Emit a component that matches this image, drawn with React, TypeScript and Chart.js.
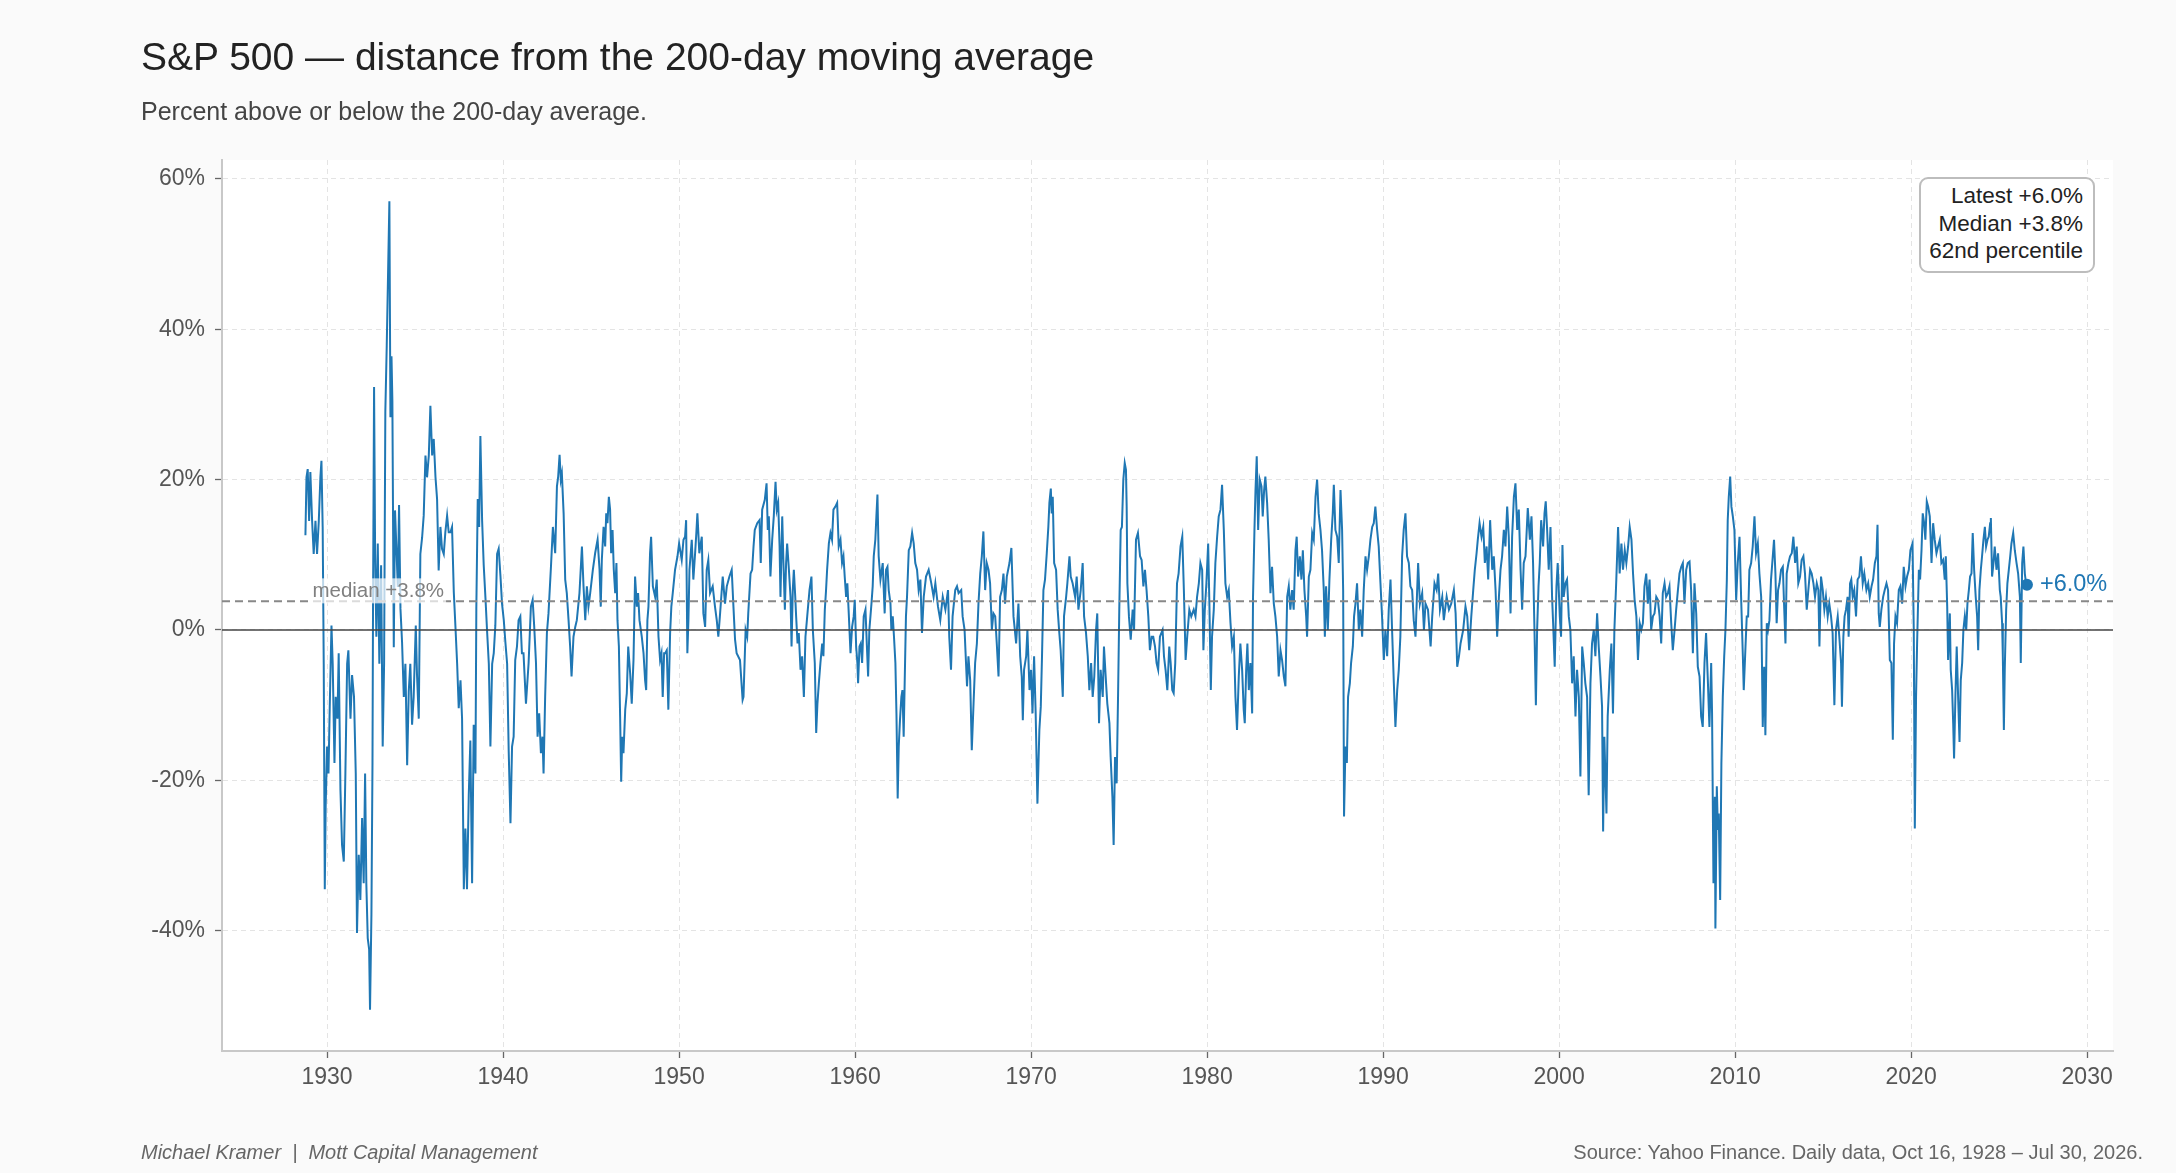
import React, { useEffect, useRef } from 'react';
import { Chart, registerables } from 'chart.js';
Chart.register(...registerables);

const FONT = '"Liberation Sans", Arial, Helvetica, sans-serif';
const BLUE = '#1f77b4';

// decimal year of each reading
const dates: number[] = [
  1928.77, 1928.83, 1928.9, 1928.98, 1929.05, 1929.15, 1929.24, 1929.34, 1929.43, 1929.53,
  1929.62, 1929.68, 1929.75, 1929.81, 1929.87, 1929.92, 1930.0, 1930.08, 1930.15, 1930.25,
  1930.32, 1930.42, 1930.49, 1930.59, 1930.66, 1930.76, 1930.85, 1930.95, 1931.04, 1931.14,
  1931.21, 1931.33, 1931.42, 1931.53, 1931.63, 1931.7, 1931.8, 1931.89, 1931.99, 1932.08,
  1932.16, 1932.23, 1932.31, 1932.39, 1932.44, 1932.52, 1932.58, 1932.61, 1932.67, 1932.73,
  1932.8, 1932.88, 1932.97, 1933.07, 1933.16, 1933.24, 1933.31, 1933.39, 1933.47, 1933.54,
  1933.6, 1933.66, 1933.71, 1933.79, 1933.86, 1933.94, 1934.02, 1934.09, 1934.17, 1934.26,
  1934.36, 1934.45, 1934.55, 1934.64, 1934.73, 1934.83, 1934.92, 1935.04, 1935.11, 1935.21,
  1935.3, 1935.4, 1935.49, 1935.59, 1935.68, 1935.78, 1935.87, 1935.97, 1936.06, 1936.16,
  1936.25, 1936.34, 1936.44, 1936.53, 1936.63, 1936.72, 1936.82, 1936.91, 1937.01, 1937.1,
  1937.2, 1937.29, 1937.39, 1937.48, 1937.58, 1937.67, 1937.77, 1937.86, 1937.95, 1938.05,
  1938.14, 1938.24, 1938.33, 1938.43, 1938.48, 1938.56, 1938.64, 1938.71, 1938.81, 1938.9,
  1939.0, 1939.09, 1939.19, 1939.28, 1939.38, 1939.47, 1939.56, 1939.66, 1939.75, 1939.85,
  1939.94, 1940.04, 1940.13, 1940.23, 1940.32, 1940.42, 1940.51,
  1940.6, 1940.69, 1940.79, 1940.88, 1940.98, 1941.07, 1941.16, 1941.3, 1941.45, 1941.58,
  1941.68, 1941.77, 1941.87, 1941.96, 1942.05, 1942.15, 1942.24, 1942.3, 1942.39, 1942.49,
  1942.58, 1942.72, 1942.83, 1942.96, 1943.06, 1943.13, 1943.21, 1943.28, 1943.34, 1943.44,
  1943.53, 1943.62, 1943.72, 1943.81, 1943.89, 1944.0, 1944.1, 1944.19, 1944.34, 1944.48,
  1944.57, 1944.67, 1944.76, 1944.85, 1944.95, 1945.1, 1945.23, 1945.37, 1945.48, 1945.55,
  1945.61, 1945.71, 1945.8, 1945.86, 1945.93, 1946.01, 1946.08, 1946.14, 1946.22, 1946.29,
  1946.37, 1946.44, 1946.5, 1946.58, 1946.65, 1946.71, 1946.77, 1946.84, 1946.94, 1947.03,
  1947.11, 1947.22, 1947.31, 1947.41, 1947.5, 1947.6, 1947.67, 1947.75, 1947.88, 1947.98,
  1948.07, 1948.13, 1948.2, 1948.26, 1948.35, 1948.41, 1948.51, 1948.64, 1948.73, 1948.83,
  1948.92, 1949.0, 1949.07, 1949.15, 1949.21, 1949.3, 1949.39, 1949.49, 1949.56, 1949.64,
  1949.77, 1949.91, 1950.0, 1950.09, 1950.15, 1950.25, 1950.34, 1950.4, 1950.47, 1950.53,
  1950.59, 1950.72, 1950.81, 1950.91, 1950.98, 1951.04, 1951.15, 1951.29, 1951.38, 1951.48,
  1951.57, 1951.66, 1951.76, 1951.91, 1952.04, 1952.14, 1952.23, 1952.33, 1952.48, 1952.61,
  1952.71, 1952.86, 1952.99, 1953.08, 1953.18, 1953.27, 1953.46, 1953.61,
  1953.66, 1953.78, 1953.87, 1953.93, 1954.06, 1954.15, 1954.23, 1954.3, 1954.44, 1954.57,
  1954.64, 1954.72, 1954.87, 1954.97, 1955.04, 1955.1, 1955.19, 1955.29, 1955.38, 1955.48,
  1955.55, 1955.63, 1955.71, 1955.76, 1955.86, 1955.93, 1956.01, 1956.08, 1956.14, 1956.24,
  1956.33, 1956.39, 1956.46, 1956.52, 1956.6, 1956.65, 1956.73, 1956.8, 1956.9, 1956.99,
  1957.09, 1957.18, 1957.28, 1957.41, 1957.52, 1957.6, 1957.71, 1957.79, 1957.86, 1957.94,
  1958.03, 1958.13, 1958.2, 1958.28, 1958.35, 1958.41, 1958.51, 1958.6, 1958.69, 1958.77,
  1958.88, 1958.98, 1959.07, 1959.17, 1959.26, 1959.34, 1959.41, 1959.49, 1959.56, 1959.64,
  1959.74, 1959.83, 1959.92, 1959.98, 1960.06, 1960.13, 1960.17, 1960.25, 1960.32, 1960.4,
  1960.49, 1960.59, 1960.68, 1960.74, 1960.81, 1960.93, 1961.0, 1961.06, 1961.15, 1961.21,
  1961.27, 1961.34, 1961.44, 1961.57, 1961.68, 1961.76, 1961.84, 1961.91, 1962.01, 1962.06,
  1962.14, 1962.21, 1962.29, 1962.35, 1962.42, 1962.48, 1962.55, 1962.63, 1962.69, 1962.76,
  1962.82, 1962.89, 1962.95, 1963.05, 1963.14, 1963.24, 1963.33, 1963.42, 1963.52, 1963.61,
  1963.71, 1963.8, 1963.9, 1964.03, 1964.18, 1964.33, 1964.46, 1964.56, 1964.71, 1964.84,
  1964.98, 1965.13, 1965.28, 1965.35, 1965.45, 1965.54, 1965.69, 1965.79, 1965.88, 1966.03,
  1966.11, 1966.22, 1966.36,
  1966.44, 1966.54, 1966.63, 1966.73, 1966.82, 1966.92, 1967.01, 1967.11, 1967.2, 1967.29,
  1967.39, 1967.48, 1967.58, 1967.67, 1967.77, 1967.86, 1967.96, 1968.05, 1968.15, 1968.24,
  1968.34, 1968.43, 1968.52, 1968.62, 1968.77, 1968.88, 1969.0, 1969.15, 1969.28, 1969.38,
  1969.47, 1969.53, 1969.6, 1969.72, 1969.79, 1969.91, 1970.0, 1970.08, 1970.17, 1970.26,
  1970.36, 1970.42, 1970.47, 1970.55, 1970.62, 1970.7, 1970.79, 1970.89, 1970.98, 1971.04,
  1971.12, 1971.17, 1971.23, 1971.31, 1971.42, 1971.51, 1971.59, 1971.68, 1971.8, 1971.87,
  1971.99, 1972.06, 1972.18, 1972.25, 1972.36, 1972.5, 1972.59, 1972.69, 1972.82, 1972.93,
  1973.01, 1973.12, 1973.22, 1973.31, 1973.41, 1973.5, 1973.59, 1973.69, 1973.76, 1973.86,
  1973.95, 1974.07, 1974.14, 1974.26, 1974.33, 1974.45, 1974.52, 1974.62, 1974.69, 1974.77,
  1974.86, 1974.94, 1975.01, 1975.09, 1975.16, 1975.24, 1975.32, 1975.39, 1975.43, 1975.47,
  1975.56, 1975.66, 1975.77, 1975.85, 1975.96, 1976.07, 1976.19, 1976.28, 1976.38, 1976.47,
  1976.56, 1976.66, 1976.75, 1976.85, 1976.94, 1977.04, 1977.13, 1977.22, 1977.32, 1977.47,
  1977.55, 1977.64, 1977.74, 1977.85, 1977.93, 1978.02, 1978.1, 1978.19, 1978.29, 1978.38,
  1978.49, 1978.59, 1978.68, 1978.78, 1978.87, 1978.99, 1979.1,
  1979.24, 1979.34, 1979.43, 1979.53, 1979.62, 1979.72, 1979.79, 1979.87, 1979.96, 1980.06,
  1980.13, 1980.21, 1980.28, 1980.38, 1980.47, 1980.57, 1980.66, 1980.76, 1980.85, 1980.95,
  1981.04, 1981.14, 1981.23, 1981.33, 1981.42, 1981.52, 1981.61, 1981.7, 1981.8, 1981.89,
  1981.99, 1982.08, 1982.14, 1982.22, 1982.29, 1982.37, 1982.46, 1982.56, 1982.61, 1982.69,
  1982.75, 1982.82, 1982.9, 1982.99, 1983.09, 1983.16, 1983.24, 1983.31, 1983.41, 1983.5,
  1983.6, 1983.69, 1983.79, 1983.88, 1983.98, 1984.07, 1984.17, 1984.26, 1984.36, 1984.45,
  1984.55, 1984.64, 1984.73, 1984.83, 1984.92, 1985.02, 1985.09, 1985.17, 1985.27, 1985.36,
  1985.44, 1985.53, 1985.63, 1985.68, 1985.78, 1985.87, 1985.97, 1986.06, 1986.16, 1986.25,
  1986.34, 1986.44, 1986.53, 1986.63, 1986.69, 1986.76, 1986.86, 1986.95, 1987.05, 1987.14,
  1987.2, 1987.29, 1987.39, 1987.48, 1987.58, 1987.67, 1987.73, 1987.78, 1987.86, 1987.94,
  1988.01, 1988.11, 1988.18, 1988.28, 1988.35, 1988.43, 1988.52, 1988.62, 1988.71, 1988.81,
  1988.9, 1989.0, 1989.09, 1989.19, 1989.28, 1989.38, 1989.47, 1989.56, 1989.66, 1989.75,
  1989.85, 1989.94, 1990.04, 1990.13, 1990.23, 1990.32, 1990.42, 1990.51, 1990.61, 1990.7,
  1990.8, 1990.89, 1990.98, 1991.08, 1991.17, 1991.27, 1991.36, 1991.46, 1991.55, 1991.65,
  1991.74, 1991.84, 1991.99,
  1992.09, 1992.22, 1992.32, 1992.41, 1992.55, 1992.7, 1992.79, 1992.92, 1993.04, 1993.13,
  1993.23, 1993.36, 1993.45, 1993.61, 1993.74, 1993.87, 1994.02, 1994.12, 1994.21, 1994.31,
  1994.4, 1994.55, 1994.68, 1994.78, 1994.89, 1995.01, 1995.12, 1995.21, 1995.31, 1995.38,
  1995.48, 1995.59, 1995.69, 1995.78, 1995.88, 1995.97, 1996.08, 1996.2, 1996.29, 1996.39,
  1996.48, 1996.58, 1996.67, 1996.76, 1996.86, 1996.95, 1997.05, 1997.14, 1997.24, 1997.33,
  1997.43, 1997.52, 1997.62, 1997.71, 1997.81, 1997.9, 1997.99, 1998.09, 1998.22, 1998.34,
  1998.43, 1998.52, 1998.6, 1998.68, 1998.75, 1998.83, 1998.9, 1998.98, 1999.09, 1999.17,
  1999.24, 1999.32, 1999.41, 1999.51, 1999.6, 1999.66, 1999.75, 1999.85, 1999.92, 2000.04,
  2000.11, 2000.19, 2000.26, 2000.36, 2000.45, 2000.55, 2000.64, 2000.74, 2000.83, 2000.93,
  2001.02, 2001.12, 2001.21, 2001.31, 2001.4, 2001.49, 2001.59, 2001.68, 2001.78, 2001.87,
  2001.97, 2002.06, 2002.16, 2002.25, 2002.35, 2002.44, 2002.5, 2002.57, 2002.69, 2002.76,
  2002.88, 2002.97, 2003.06, 2003.14, 2003.25, 2003.35, 2003.44, 2003.54, 2003.63, 2003.73,
  2003.82, 2003.92, 2004.01, 2004.11, 2004.2, 2004.29, 2004.39, 2004.48, 2004.58,
  2004.67, 2004.76, 2004.85, 2004.95, 2005.04, 2005.14, 2005.23, 2005.33, 2005.42, 2005.52,
  2005.61, 2005.71, 2005.8, 2005.89, 2005.99, 2006.08, 2006.18, 2006.27, 2006.37, 2006.46,
  2006.56, 2006.65, 2006.75, 2006.84, 2006.94, 2007.03, 2007.12, 2007.22, 2007.31, 2007.41,
  2007.5, 2007.6, 2007.69, 2007.79, 2007.88, 2007.98, 2008.07, 2008.16, 2008.26, 2008.35,
  2008.45, 2008.54, 2008.64, 2008.69, 2008.77, 2008.85, 2008.88, 2008.96, 2009.02, 2009.07,
  2009.15, 2009.22, 2009.3, 2009.38, 2009.45, 2009.53, 2009.58, 2009.64, 2009.72, 2009.79,
  2009.87, 2009.96, 2010.06, 2010.15, 2010.25, 2010.34, 2010.44, 2010.49, 2010.59, 2010.66,
  2010.74, 2010.81, 2010.91, 2011.0, 2011.1, 2011.19, 2011.29, 2011.38, 2011.48, 2011.57,
  2011.65, 2011.72, 2011.8, 2011.87, 2011.95, 2012.04, 2012.14, 2012.21, 2012.29, 2012.36,
  2012.44, 2012.52, 2012.61, 2012.71, 2012.78, 2012.86, 2012.93, 2013.03, 2013.12, 2013.22,
  2013.31, 2013.41, 2013.5, 2013.59, 2013.69, 2013.78, 2013.88, 2013.97, 2014.07, 2014.16,
  2014.26, 2014.35, 2014.45, 2014.54, 2014.64, 2014.73, 2014.79, 2014.88, 2014.98, 2015.07,
  2015.16, 2015.26, 2015.35, 2015.45, 2015.54, 2015.64, 2015.73, 2015.83, 2015.92, 2016.02,
  2016.07, 2016.15, 2016.22, 2016.3, 2016.39, 2016.45, 2016.53, 2016.6, 2016.68, 2016.77,
  2016.87, 2016.96, 2017.06, 2017.15, 2017.25, 2017.34,
  2017.46, 2017.56, 2017.65, 2017.75, 2017.84, 2017.94, 2018.03, 2018.09, 2018.16, 2018.22,
  2018.31, 2018.41, 2018.5, 2018.6, 2018.69, 2018.79, 2018.88, 2018.96, 2019.03, 2019.11,
  2019.2, 2019.3, 2019.39, 2019.49, 2019.58, 2019.68, 2019.77, 2019.87, 2019.96, 2020.08,
  2020.15, 2020.21, 2020.28, 2020.34, 2020.44, 2020.51, 2020.59, 2020.66, 2020.74, 2020.81,
  2020.89, 2020.97, 2021.06, 2021.16, 2021.25, 2021.34, 2021.44, 2021.53, 2021.63, 2021.72,
  2021.82, 2021.91, 2021.97, 2022.05, 2022.1, 2022.2, 2022.25, 2022.33, 2022.39, 2022.44,
  2022.52, 2022.59, 2022.67, 2022.75, 2022.82, 2022.9, 2022.97, 2023.05, 2023.13, 2023.2,
  2023.28, 2023.35, 2023.43, 2023.5, 2023.58, 2023.67, 2023.75, 2023.81, 2023.88, 2023.96,
  2024.03, 2024.11, 2024.19, 2024.26, 2024.34, 2024.41, 2024.49, 2024.53, 2024.6, 2024.68,
  2024.75, 2024.85, 2024.94, 2025.04, 2025.09, 2025.17, 2025.21, 2025.27, 2025.32, 2025.4,
  2025.47, 2025.55, 2025.63, 2025.7, 2025.8, 2025.89, 2025.99, 2026.08, 2026.18, 2026.23,
  2026.31, 2026.38, 2026.46, 2026.53, 2026.58,
];

// % distance from the 200-day average, same order as dates
const values: number[] = [
  12.6, 20.3, 21.4, 14.5, 21.0, 14.5, 10.1, 14.5, 10.1, 14.5,
  20.3, 22.5, 13.7, -4.5, -34.5, -23.5, -15.5, -19.1, -10.4, 0.6,
  -4.5, -17.7, -8.9, -11.8, -3.1, -21.3, -28.6, -30.8, -19.1, -4.5,
  -2.7, -11.8, -6.0, -8.9, -19.1, -40.3, -29.9, -35.9, -25.0, -33.7,
  -19.1, -33.7, -41.0, -42.5, -50.5, -37.8, -17.7, 2.8, 32.3, 10.1,
  -0.9, 11.5, -4.5, 8.6, -15.5, -4.5, 29.1, 37.8, 48.0, 57.0,
  28.3, 36.4, 30.5, -2.3, 15.9, 10.8, 5.7, 16.6, 2.8, -1.6,
  -8.9, -4.5, -18.0, -8.2, -4.5, -12.6, -8.9, 0.6, -6.0, -11.8,
  10.1, 12.3, 15.2, 23.2, 20.3, 23.2, 29.8, 23.2, 25.4, 20.3,
  17.4, 7.9, 13.7, 10.8, 10.1, 13.0, 15.2, 13.0, 13.0, 13.7,
  5.0, 0.6, -4.5, -10.4, -6.7, -11.8, -34.5, -26.4, -34.5, -22.0,
  -14.7, -33.7, -12.6, -19.1, 2.8, 17.4, 13.7, 25.8, 14.5, 8.6,
  4.2, -0.1, -4.5, -15.5, -4.5, -3.1, 0.6, 10.1, 10.8, 7.2,
  3.5, 1.3, -1.6, -4.5, -16.2, -25.7, -15.5,
  -14.2, -4.0, -2.2, 1.3, 1.8, -3.1, -3.1, -9.8, -4.4, 3.1,
  4.0, 0.4, -4.4, -14.2, -11.1, -16.4, -14.2, -19.1, -8.9, -0.4,
  2.2, 8.4, 13.7, 10.2, 19.1, 20.4, 23.3, 20.0, 20.8, 15.5,
  6.7, 4.9, 1.3, -2.2, -6.2, -0.9, 0.4, 1.3, 4.9, 11.1,
  5.8, 1.3, 5.8, 3.1, 4.9, 8.0, 10.2, 12.0, 8.0, 3.1,
  9.3, 13.7, 11.1, 15.5, 14.2, 17.7, 16.0, 10.2, 13.3, 8.0,
  4.9, 8.9, 1.3, -2.2, -11.5, -20.2, -14.2, -16.4, -10.6, -8.4,
  -2.2, -5.8, -9.8, -4.0, 7.1, 3.1, 4.9, 1.3, -0.9, -3.1,
  -6.7, -8.0, 1.3, 3.1, 10.2, 12.4, 5.8, 4.4, 6.7, -0.9,
  -4.0, -3.1, -8.9, -3.1, -3.1, -2.7, -10.6, -0.4, 3.1, 4.9,
  8.0, 9.8, 11.5, 10.2, 9.3, 12.0, 12.4, 14.6, -3.1, 1.3,
  8.0, 12.0, 6.7, 10.2, 12.9, 15.5, 10.2, 12.4, 2.2, 0.4,
  8.0, 9.3, 4.9, 5.8, 3.1, 1.3, -0.9, 2.2, 7.1, 3.5,
  5.8, 7.1, 8.0, 3.5, -1.3, -3.1, -4.0, -9.3,
  -8.9, 0.0, -0.9, 2.2, 7.5, 8.0, 11.1, 13.3, 14.2, 14.6,
  8.9, 16.0, 17.3, 19.5, 13.3, 15.1, 7.1, 12.0, 15.1, 19.7,
  16.0, 16.9, 11.1, 4.4, 15.1, 8.9, 2.7, 8.9, 11.5, 8.0,
  4.4, -2.2, 5.3, 8.0, 4.4, 1.8, -1.8, -0.4, -5.3, -3.5,
  -8.9, -0.9, 1.8, 5.3, 7.1, 0.0, -4.4, -13.7, -9.8, -7.1,
  -4.4, -1.8, -3.5, 2.7, 5.3, 8.0, 11.5, 12.9, 12.0, 16.0,
  16.4, 16.9, 11.1, 12.0, 8.9, 9.8, 7.1, 4.4, 6.2, 2.2,
  -3.1, 0.4, 1.8, 4.0, -2.2, -4.4, -7.1, -2.2, -1.8, -4.4,
  1.8, 2.7, -2.7, -6.2, 0.0, 3.5, 5.8, 9.8, 12.0, 15.1,
  18.0, 9.8, 6.7, 8.9, 2.2, 8.0, 8.4, 5.3, 3.5, 0.0,
  1.8, -0.9, -4.4, -11.1, -22.4, -15.5, -12.0, -8.9, -8.0, -14.2,
  -6.7, 1.8, 4.4, 10.6, 11.1, 12.9, 11.5, 8.9, 8.0, 5.3,
  6.7, -0.4, 4.4, 7.1, 8.0, 6.2, 4.4, 6.2, 3.1, 1.3,
  4.4, 2.7, 5.3, -0.9, -5.3, 1.8, 5.3, 5.8, 4.9, 5.3,
  1.8, 0.0, -7.5,
  -3.5, -6.7, -16.0, -9.8, -4.4, -1.8, 3.5, 7.5, 9.8, 13.1,
  5.3, 8.9, 8.0, 6.2, 0.0, 2.2, 1.8, -1.8, -6.2, 4.4,
  5.3, 7.5, 3.5, 7.1, 8.9, 10.9, 1.8, -1.8, 3.5, -3.5,
  -6.2, -12.0, -5.3, -3.5, 0.0, -8.0, -5.3, -11.1, -3.5, -11.1,
  -23.1, -17.7, -13.3, -10.2, -3.5, 5.3, 6.7, 10.2, 13.7, 16.9,
  18.8, 15.5, 17.7, 8.9, 8.0, 2.7, 0.0, -2.7, -8.9, 1.8,
  4.4, 6.2, 9.8, 7.1, 6.2, 4.4, 7.1, 2.7, 5.3, 8.9,
  1.8, -0.4, -3.5, -8.0, -4.4, -8.9, -6.2, 0.0, 2.2, -12.4,
  -5.3, -8.9, -2.2, -7.1, -9.8, -12.4, -16.9, -22.2, -28.6, -16.9,
  -20.4, -8.9, 2.7, 13.3, 13.7, 20.0, 22.2, 21.3, 16.4, 6.2,
  1.8, -1.3, 2.7, 0.0, 12.0, 12.9, 9.8, 9.3, 5.8, 8.0,
  5.3, 1.8, -2.7, -0.9, -0.9, -2.2, -4.4, -5.3, -0.9, 0.0,
  -3.5, -5.3, -8.0, -2.2, -4.4, -8.0, -8.4, -4.4, 6.2, 7.5,
  11.1, 12.4, 5.3, -4.0, -0.9, 2.7, 1.8,
  2.7, 1.8, 4.4, 6.2, 8.9, 8.0, -2.7, 2.7, 6.2, 11.5,
  3.5, -8.0, -0.9, 2.7, 8.9, 12.4, 15.1, 16.0, 19.3, 13.3,
  6.2, 4.4, 5.3, 0.9, -2.2, -0.9, -8.9, -13.3, -6.2, -1.8,
  -5.3, -10.6, -12.4, -5.3, -1.8, -8.0, -4.4, -11.1, 4.4, 13.3,
  18.6, 23.1, 13.3, 20.0, 19.1, 15.1, 18.6, 20.4, 16.9, 12.0,
  4.9, 8.4, 3.5, 1.8, -0.9, -6.2, -2.7, -4.0, -6.2, -7.5,
  4.4, 5.8, 2.7, 5.3, 2.7, 10.6, 12.4, 7.1, 9.8, 6.7,
  10.6, 5.3, 1.8, -0.9, 7.1, 8.0, 12.9, 12.0, 17.7, 20.0,
  15.5, 13.3, 10.6, 5.3, -0.9, 5.8, 0.0, 6.7, 12.0, 15.5,
  19.3, 13.3, 12.4, 8.9, 18.6, 13.3, 5.3, -24.8, -15.5, -17.7,
  -8.9, -7.1, -4.4, -2.2, 1.8, 3.5, 6.2, 0.0, 2.7, -0.9,
  5.3, 9.8, 8.0, 9.8, 12.0, 13.7, 14.2, 16.4, 13.3, 11.1,
  6.2, 1.8, -4.0, 0.0, -3.5, 2.7, 6.7, 0.0, -7.1, -12.9,
  -8.0, -5.3, -0.9, 9.8, 13.3, 15.5, 9.8, 8.9, 5.8, 5.3,
  1.3, -0.9, 8.9,
  3.5, 4.9, 0.0, 3.5, 2.7, -2.2, 1.8, 6.2, 5.3, 7.5,
  2.7, 4.4, 1.3, 4.4, 2.7, 3.5, 5.3, 2.2, -4.9, -3.5,
  -1.8, 0.0, 3.1, 1.8, -2.7, 1.8, 5.3, 8.0, 10.2, 12.0,
  14.2, 12.4, 13.7, 8.9, 11.1, 6.7, 14.6, 8.0, 9.8, 5.3,
  -0.9, 4.4, 8.0, 9.8, 13.3, 11.1, 16.4, 12.4, 2.2, 12.4,
  17.7, 19.5, 13.3, 16.0, 8.0, 2.7, 8.9, 9.8, 16.2, 12.0,
  15.1, 8.9, 0.0, -10.0, 0.0, 5.8, 8.9, 14.6, 11.1, 15.5,
  17.1, 13.3, 8.0, 13.7, 4.4, 0.9, -4.9, 5.8, 8.9, 1.8,
  -0.9, 11.3, 4.4, 6.2, 6.7, 1.8, 0.0, -7.1, -3.5, -11.5,
  -5.3, -8.9, -19.5, -2.2, -4.4, -7.1, -8.9, -22.0, -7.1, -1.8,
  0.0, -3.5, 2.2, -2.2, -6.2, -10.2, -26.8, -14.2, -24.4, -11.5,
  -5.3, -1.8, -11.1, 0.0, 6.7, 13.7, 7.5, 11.5, 8.0, 10.6,
  8.9, 11.1, 13.7, 12.0, 7.5, 4.0, 1.8, -4.0, 0.9,
  0.0, 0.9, 5.8, 7.5, 3.5, 6.7, 0.0, 1.8, 2.2, 4.4,
  4.0, 1.8, -1.8, 4.9, 6.2, 4.4, 4.9, 5.8, 0.9, -2.7,
  0.0, 2.7, 5.3, 7.5, 8.4, 8.9, 3.5, 8.0, 8.9, 9.1,
  5.3, -3.1, 6.2, 2.2, -4.9, -6.2, -11.5, -12.9, -4.4, -0.4,
  -6.7, -12.9, -4.4, -11.1, -33.7, -22.2, -39.7, -20.8, -26.6, -24.4,
  -35.9, -17.7, -8.9, -3.5, 0.0, 6.7, 14.6, 17.7, 20.4, 16.4,
  15.1, 13.3, 4.0, 8.9, 12.4, 4.4, -3.5, -8.0, -2.2, 1.8,
  1.8, 8.0, 8.9, 11.1, 15.1, 10.2, 11.5, 7.5, 4.4, -12.9,
  -4.9, -14.0, 0.9, 0.0, 1.3, 6.7, 9.8, 12.0, 7.5, 0.9,
  5.3, 6.2, 8.0, 8.4, 3.5, -1.8, 7.5, 8.9, 9.8, 10.2,
  12.4, 8.9, 11.1, 6.2, 7.1, 9.3, 9.8, 7.5, 2.7, 5.3,
  8.0, 7.5, 6.2, 4.4, 6.2, 5.3, -2.2, 7.1, 5.3, 2.7,
  4.4, 1.8, 3.5, 1.8, -0.4, -10.0, 0.0, 1.8, -0.9, -4.4,
  -10.2, -0.9, 1.8, 2.7, 4.4, -0.9, 6.2, 6.7, 4.4, 5.3,
  1.8, 6.7, 7.1, 9.8, 6.2, 7.5,
  5.3, 6.2, 4.4, 5.8, 6.7, 8.9, 9.8, 14.0, 2.2, 0.4,
  2.7, 4.4, 5.3, 6.2, 5.3, -4.0, -4.4, -14.6, -1.8, 1.8,
  0.9, 5.3, 5.8, 3.5, 8.4, 5.8, 7.1, 8.0, 10.6, 11.5,
  0.0, -26.4, -8.9, -1.8, 8.0, 6.7, 10.6, 15.5, 14.2, 12.0,
  17.1, 16.4, 15.1, 8.9, 14.2, 12.0, 10.2, 11.1, 12.0, 8.9,
  9.3, 6.7, 9.8, 3.1, -4.0, 2.2, -5.3, -8.0, -12.4, -17.1,
  -8.4, -2.2, -8.9, -14.9, -6.7, -4.4, 0.0, 1.8, 0.0, 3.5,
  5.3, 7.1, 7.5, 12.9, 8.0, 4.4, 1.8, -2.7, 5.3, 8.0,
  9.8, 12.0, 13.7, 11.1, 12.0, 12.4, 14.2, 14.9, 7.1, 8.9,
  11.1, 8.0, 10.2, 5.3, 4.4, 0.9, -3.5, -13.3, -5.3, 2.7,
  6.2, 8.0, 9.8, 11.5, 12.9, 10.6, 8.9, 7.5, 4.4, -4.4,
  8.9, 11.1, 7.5, 6.2, 6.0,
];

const yearTicks: number[] = [1930, 1940, 1950, 1960, 1970, 1980, 1990, 2000, 2010, 2020, 2030];
const MEDIAN = 3.8;
const LATEST = values[values.length - 1];
const boxLines: string[] = ['Latest +6.0%', 'Median +3.8%', '62nd percentile'];

const decorPlugin = {
  id: 'decor',
  beforeDraw(chart: any) {
    const { ctx, chartArea: a } = chart;
    ctx.save();
    ctx.fillStyle = '#ffffff';
    ctx.fillRect(a.left, a.top, a.right - a.left, a.bottom - a.top);
    ctx.restore();
  },
  afterDatasetsDraw(chart: any) {
    const { ctx, chartArea: a, scales } = chart;
    const y0 = scales.y.getPixelForValue(0);
    const ym = scales.y.getPixelForValue(MEDIAN);
    ctx.save();
    // zero line
    ctx.strokeStyle = '#444';
    ctx.lineWidth = 1.6;
    ctx.beginPath();
    ctx.moveTo(a.left, y0);
    ctx.lineTo(a.right, y0);
    ctx.stroke();
    // median line
    ctx.strokeStyle = '#888';
    ctx.lineWidth = 2;
    ctx.setLineDash([8, 5]);
    ctx.beginPath();
    ctx.moveTo(a.left, ym);
    ctx.lineTo(a.right, ym);
    ctx.stroke();
    ctx.setLineDash([]);

    // median label
    const label = 'median +' + MEDIAN.toFixed(1) + '%';
    ctx.font = `20.5px ${FONT}`;
    const lx = scales.x.getPixelForValue(dates[0]) + 7;
    const w = ctx.measureText(label).width;
    ctx.fillStyle = 'rgba(255,255,255,0.7)';
    ctx.fillRect(lx - 2, ym - 23, w + 4, 25);
    ctx.fillStyle = '#808080';
    ctx.textBaseline = 'alphabetic';
    ctx.textAlign = 'left';
    ctx.fillText(label, lx, ym - 4);

    // end label
    const ex = scales.x.getPixelForValue(dates[dates.length - 1]);
    const ey = scales.y.getPixelForValue(LATEST);
    ctx.font = `23.5px ${FONT}`;
    ctx.fillStyle = BLUE;
    ctx.textBaseline = 'middle';
    ctx.fillText('+' + LATEST.toFixed(1) + '%', ex + 13, ey);
    ctx.restore();
  },
};

const App: React.FC = () => {
  const canvasRef = useRef<HTMLCanvasElement>(null);
  const chartRef = useRef<Chart | null>(null);

  useEffect(() => {
    if (!canvasRef.current) return;
    if (chartRef.current) chartRef.current.destroy();
    const ctx = canvasRef.current.getContext('2d');
    if (!ctx) return;

    const points = dates.map((x, i) => ({ x, y: values[i] }));
    const gridOpts = {
      color: '#e4e4e4',
      lineWidth: 1,
      tickLength: 7,
      tickColor: '#666',
      tickWidth: 1.3,
      tickBorderDash: [],
    };
    const tickFont = { family: FONT, size: 23 };

    chartRef.current = new Chart(ctx, {
      type: 'line',
      data: {
        datasets: [
          {
            data: [{ x: dates[dates.length - 1], y: LATEST }],
            showLine: false,
            pointRadius: 6,
            pointBackgroundColor: BLUE,
            pointBorderWidth: 0,
          },
          {
            data: points,
            borderColor: BLUE,
            borderWidth: 2,
            pointRadius: 0,
            tension: 0,
            fill: false,
          },
        ],
      },
      options: {
        animation: false,
        responsive: false,
        layout: { padding: { top: 160, right: 63, bottom: 62, left: 0 } },
        plugins: { legend: { display: false }, tooltip: { enabled: false } },
        scales: {
          x: {
            type: 'linear',
            min: 1924.03,
            max: 2031.47,
            afterFit: (s: any) => { s.height = 60; },
            afterBuildTicks: (s: any) => { s.ticks = yearTicks.map((v) => ({ value: v })); },
            ticks: {
              callback: (v: any) => String(v),
              color: '#555',
              font: tickFont,
              padding: 6,
              maxRotation: 0,
              autoSkip: false,
            },
            grid: gridOpts,
            border: { display: true, color: '#c8c8c8', width: 2, dash: [5, 4] },
          },
          y: {
            type: 'linear',
            min: -56,
            max: 62.5,
            afterFit: (s: any) => { s.width = 222; },
            ticks: {
              stepSize: 20,
              includeBounds: false,
              callback: (v: any) => `${v}%`,
              color: '#555',
              font: tickFont,
              padding: 10,
            },
            grid: gridOpts,
            border: { display: true, color: '#c8c8c8', width: 2, dash: [5, 4] },
          },
        },
      },
      plugins: [decorPlugin],
    });

    return () => {
      chartRef.current?.destroy();
      chartRef.current = null;
    };
  }, []);

  return (
    <div
      style={{
        position: 'fixed',
        left: 0,
        top: 0,
        width: 2176,
        height: 1173,
        background: '#fafafa',
        fontFamily: FONT,
        overflow: 'hidden',
      }}
    >
      <canvas ref={canvasRef} width={2176} height={1173} style={{ position: 'absolute', left: 0, top: 0 }} />
      <div style={{ position: 'absolute', left: 141, top: 37, fontSize: 39, lineHeight: 1, color: '#222', whiteSpace: 'nowrap' }}>
        S&amp;P 500 — distance from the 200-day moving average
      </div>
      <div style={{ position: 'absolute', left: 141, top: 99, fontSize: 25, lineHeight: 1, color: '#444', whiteSpace: 'nowrap' }}>
        Percent above or below the 200-day average.
      </div>
      <div
        style={{
          position: 'absolute',
          left: 1919,
          top: 177,
          width: 176,
          height: 96,
          boxSizing: 'border-box',
          border: '2px solid #bdbdbd',
          borderRadius: 9,
          background: '#fff',
          padding: '3px 10px 0 0',
          textAlign: 'right',
          fontSize: 22.5,
          lineHeight: '27.5px',
          color: '#222',
          whiteSpace: 'nowrap',
        }}
      >
        {boxLines.map((t) => (
          <div key={t}>{t}</div>
        ))}
      </div>
      <div style={{ position: 'absolute', left: 141, top: 1142, fontSize: 20, lineHeight: 1, color: '#666', fontStyle: 'italic', whiteSpace: 'pre' }}>
        {'Michael Kramer  |  Mott Capital Management'}
      </div>
      <div style={{ position: 'absolute', right: 2176 - 2143, top: 1142, fontSize: 20, lineHeight: 1, color: '#666', whiteSpace: 'nowrap' }}>
        Source: Yahoo Finance. Daily data, Oct 16, 1928 – Jul 30, 2026.
      </div>
    </div>
  );
};

export default App;
